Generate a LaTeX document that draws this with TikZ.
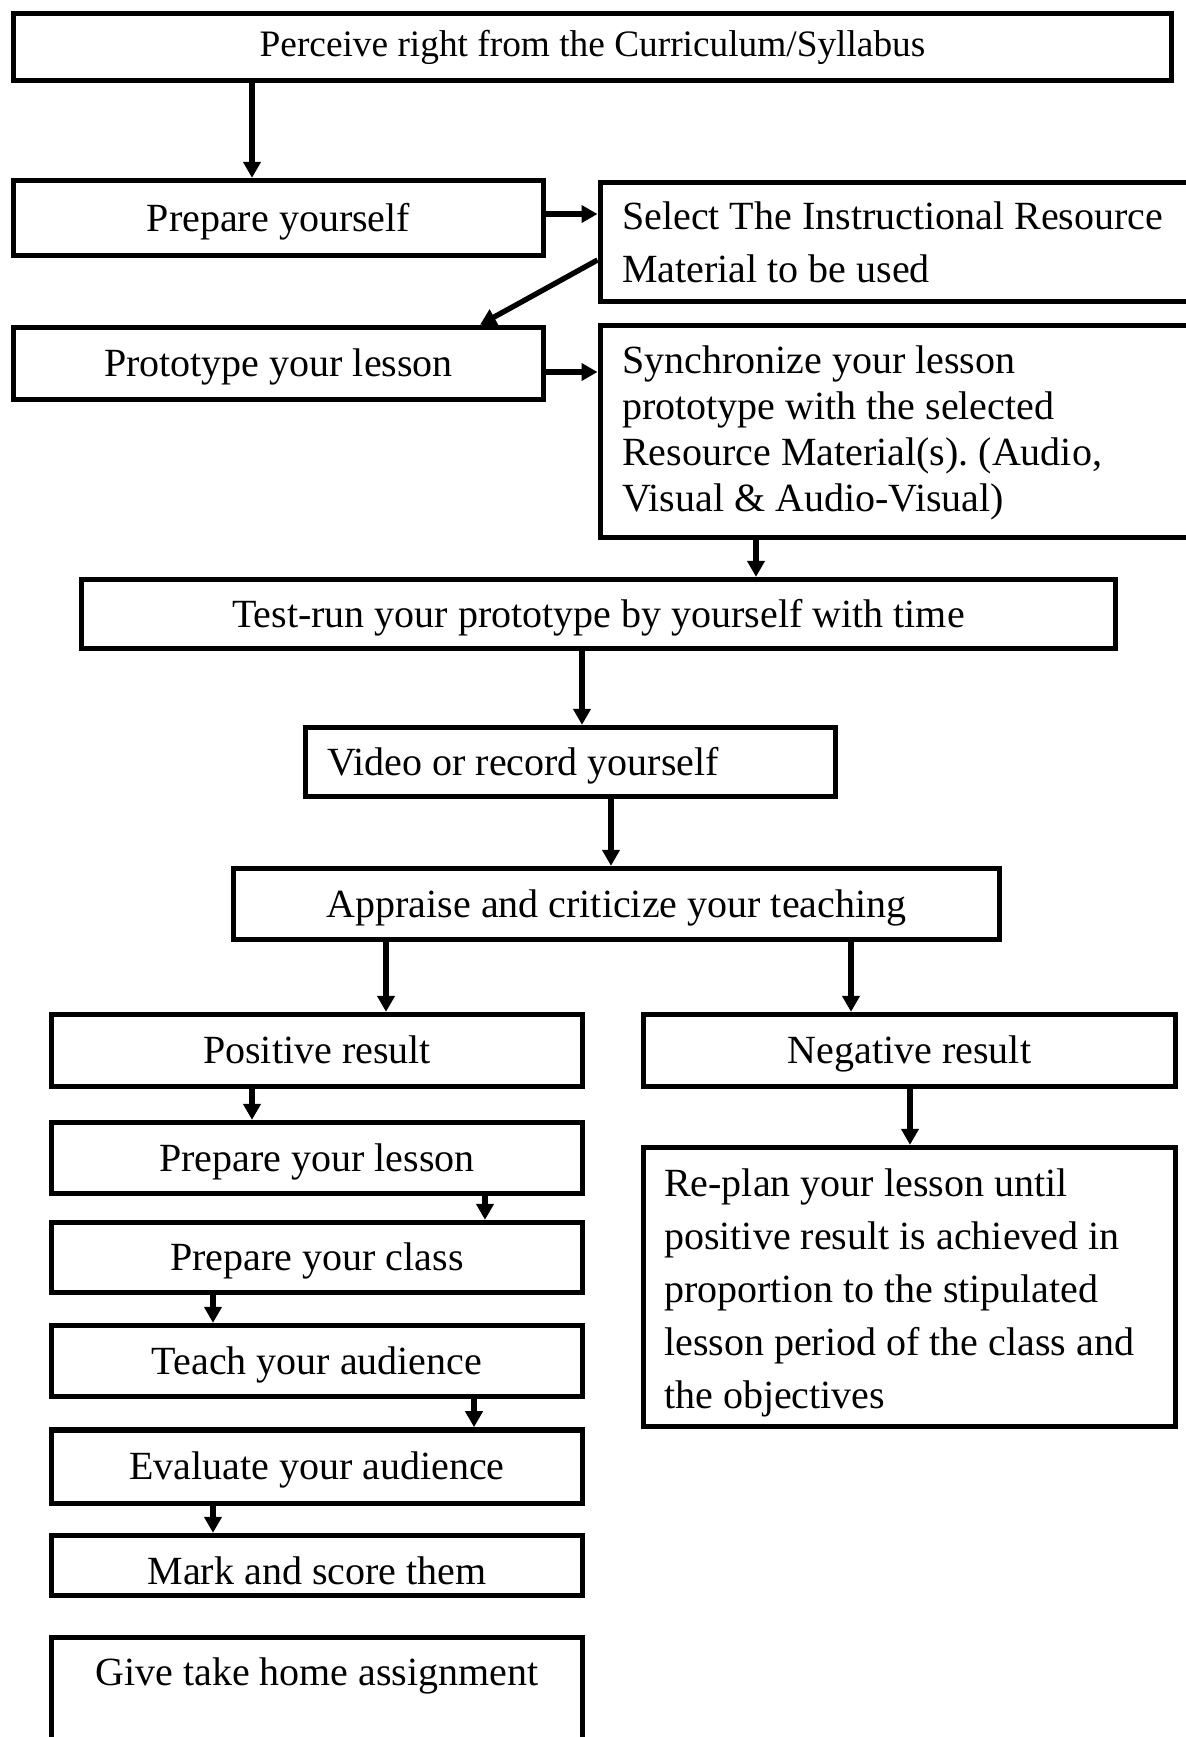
\documentclass[tikz,border=0pt]{standalone}
\usepackage{fontspec}
\setmainfont{Liberation Serif}
\usetikzlibrary{arrows.meta}
\frenchspacing

\begin{document}
\begin{tikzpicture}[
    x=0.3pt, y=-0.3pt,
    box/.style={draw=black, line width=1.6pt, inner sep=0pt,
        font=\fontsize{12}{14}\selectfont,
        minimum width=159.3pt, minimum height=21.5pt,
        text height=8.8pt, text depth=1pt},
    leftbox/.style={box, align=flush left, text height=, text depth=},
    link/.style={line width=1.6pt, -{Triangle[length=4.8pt,width=5.1pt]}}
]
    \clip (0,0) rectangle (1186,1737);

    \node[box, minimum width=347.4pt, minimum height=20.1pt, text height=, text depth=,
        font=\fontsize{11.2}{13}\selectfont] (curr) at (592.5,47)
        {Perceive right from the Curriculum/Syllabus};
    \node[box, minimum width=159pt, minimum height=22.5pt] (prep) at (278.5,218) {Prepare yourself};
    \node[leftbox, anchor=west, minimum width=184pt, text width=170.8pt, inner xsep=6.6pt,
        minimum height=35.7pt, font=\fontsize{12}{15.9}\selectfont] (select) at (597.5,242)
        {Select The Instructional Resource\\Material to be used};
    \node[box, minimum width=159pt, minimum height=21.6pt] (proto) at (278.5,363.5) {Prototype your lesson};
    \node[leftbox, anchor=west, minimum width=184pt, text width=170.8pt, inner xsep=6.6pt,
        minimum height=63.6pt, text height=9.4pt, font=\fontsize{12}{13.8}\selectfont] (sync) at (597.5,431.5)
        {Synchronize your lesson\\prototype with the selected\\Resource Material(s). (Audio,\\Visual \& Audio-Visual)};
    \node[box, minimum width=310.2pt, minimum height=20.7pt] (test) at (598.5,614)
        {Test-run your prototype by yourself with time};
    \node[box, align=flush left, minimum width=159pt, text width=146pt, inner xsep=6.5pt,
        minimum height=20.7pt] (video) at (570.5,762) {Video or record yourself};
    \node[box, minimum width=229.8pt, minimum height=21.3pt] (appr) at (616.5,904)
        {Appraise and criticize your teaching};

    % positive branch
    \node[box, minimum height=21.6pt] (pos) at (317,1050.5) {Positive result};
    \node[box, minimum height=21.3pt] (plesson) at (317,1158) {Prepare your lesson};
    \node[box, minimum height=21pt] (pclass) at (317,1257.5) {Prepare your class};
    \node[box, minimum height=21.3pt] (teach) at (317,1361) {Teach your audience};
    \node[box, minimum height=22pt] (eval) at (317,1466.5) {Evaluate your audience};
    \node[box, minimum height=18pt, text height=12pt, text depth=0.5pt] (mark) at (317,1565.5) {Mark and score them};
    \node[box, anchor=north, text height=14.6pt, text depth=40pt] (give) at (317,1634.5)
        {Give take home assignment};

    % negative branch
    \node[box, minimum width=159.6pt, minimum height=21.6pt] (neg) at (909.5,1050.5) {Negative result};
    \node[leftbox, minimum width=159.6pt, text width=147.2pt, inner xsep=6.2pt,
        minimum height=83.7pt, text height=11.8pt, font=\fontsize{12}{15.9}\selectfont] (replan) at (909.5,1287)
        {Re-plan your lesson until\\positive result is achieved in\\proportion to the stipulated\\lesson period of the class and\\the objectives};

    \draw[link] (252,0 |- curr.south) -- (252,0 |- prep.north);
    \draw[link] (prep.east |- 0,214) -- (select.west |- 0,214);
    \draw[link] (select.west |- 0,260) -- (480,0 |- proto.north);
    \draw[link] (proto.east |- 0,372) -- (sync.west |- 0,372);
    \draw[link] (756,0 |- sync.south) -- (756,0 |- test.north);
    \draw[link] (582,0 |- test.south) -- (582,0 |- video.north);
    \draw[link] (611,0 |- video.south) -- (611,0 |- appr.north);
    \draw[link] (386,0 |- appr.south) -- (386,0 |- pos.north);
    \draw[link] (851,0 |- appr.south) -- (851,0 |- neg.north);
    \draw[link] (252,0 |- pos.south) -- (252,0 |- plesson.north);
    \draw[link] (910,0 |- neg.south) -- (910,0 |- replan.north);
    \draw[link] (485,0 |- plesson.south) -- (485,0 |- pclass.north);
    \draw[link] (213,0 |- pclass.south) -- (213,0 |- teach.north);
    \draw[link] (474,0 |- teach.south) -- (474,0 |- eval.north);
    \draw[link] (213,0 |- eval.south) -- (213,0 |- mark.north);
\end{tikzpicture}
\end{document}
